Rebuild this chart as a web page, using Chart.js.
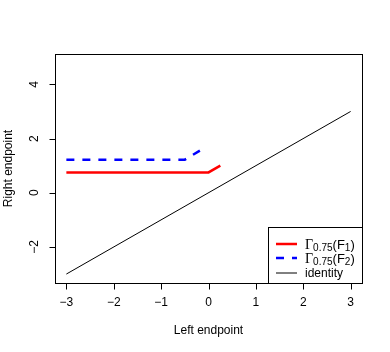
<!DOCTYPE html>
<html><head><meta charset="utf-8">
<script src="https://cdn.jsdelivr.net/npm/chart.js@4"></script>
<style>html,body{margin:0;padding:0;background:#fff}#wrap{width:390px;height:352px}</style>
</head><body><div id="wrap"><canvas id="c" width="390" height="352"></canvas></div>
<script>
const redX = [-3, 0, 0.25];
const redY = [0.75, 0.75, 1.0];
const blueX = [-3, -0.5, -0.08];
const blueY = [1.22, 1.22, 1.66];
const idX = [-3, 3];
const idY = [-3, 3];
const xTicks = [-3, -2, -1, 0, 1, 2, 3];
const yTicks = [-2, 0, 2, 4];
const xLabel = "Left endpoint";
const yLabel = "Right endpoint";
const legendItems = [
  {main: "Γ", sub: "0.75", mid: "(F", sub2: "1", end: ")", color: "#ff0000", width: 2.5, dash: []},
  {main: "Γ", sub: "0.75", mid: "(F", sub2: "2", end: ")", color: "#0000ff", width: 2.5, dash: [8, 8]},
  {text: "identity", color: "#000000", width: 1, dash: []}
];

function pts(xs, ys){ return xs.map((x,i)=>({x:x, y:ys[i]})); }

const axesPlugin = {
  id: 'rAxes',
  afterDraw(chart){
    const ctx = chart.ctx, a = chart.chartArea;
    const xs = chart.scales.x, ys = chart.scales.y;
    ctx.save();
    ctx.strokeStyle = '#000'; ctx.lineWidth = 1; ctx.setLineDash([]);
    ctx.strokeRect(a.left+0.5, a.top+0.5, a.right-a.left, a.bottom-a.top);
    ctx.fillStyle = '#000';
    ctx.font = '12px "Liberation Sans", Arial, sans-serif';
    // x axis
    const x0 = xs.getPixelForValue(xTicks[0]), x1 = xs.getPixelForValue(xTicks[xTicks.length-1]);
    const yb = a.bottom + 0.5;
    ctx.beginPath(); ctx.moveTo(x0, yb); ctx.lineTo(x1, yb);
    xTicks.forEach(t=>{ const p = Math.round(xs.getPixelForValue(t))+0.5; ctx.moveTo(p, yb); ctx.lineTo(p, yb+6); });
    ctx.stroke();
    ctx.textAlign = 'center'; ctx.textBaseline = 'middle';
    xTicks.forEach(t=>{ ctx.fillText(String(t).replace('-', '\u2212'), xs.getPixelForValue(t), a.bottom + 20); });
    ctx.fillText(xLabel, (a.left+a.right)/2, a.bottom + 48);
    // y axis
    const xl = a.left + 0.5;
    ctx.beginPath();
    ctx.moveTo(xl, ys.getPixelForValue(yTicks[0])); ctx.lineTo(xl, ys.getPixelForValue(yTicks[yTicks.length-1]));
    yTicks.forEach(t=>{ const p = Math.round(ys.getPixelForValue(t))+0.5; ctx.moveTo(xl, p); ctx.lineTo(xl-6, p); });
    ctx.stroke();
    yTicks.forEach(t=>{
      ctx.save(); ctx.translate(a.left - 20, ys.getPixelForValue(t)); ctx.rotate(-Math.PI/2);
      ctx.fillText(String(t).replace('-', '\u2212'), 0, 0); ctx.restore();
    });
    ctx.save(); ctx.translate(9, (a.top+a.bottom)/2); ctx.rotate(-Math.PI/2);
    ctx.fillText(yLabel, 0, 0); ctx.restore();
    // legend
    const lw = 94, lh = 56;
    const lx = a.right - lw, ly = a.bottom - lh;
    ctx.fillStyle = '#fff'; ctx.fillRect(lx, ly, lw, lh);
    ctx.strokeStyle = '#000'; ctx.lineWidth = 1;
    ctx.strokeRect(Math.round(lx)+0.5, Math.round(ly)+0.5, lw, lh);
    const rows = [ly+17, ly+31, ly+46];
    legendItems.forEach((it, i)=>{
      const y = rows[i];
      ctx.strokeStyle = it.color; ctx.lineWidth = it.width; ctx.setLineDash(it.dash);
      ctx.beginPath(); ctx.moveTo(lx+8, y); ctx.lineTo(lx+29, y); ctx.stroke();
      ctx.setLineDash([]);
      ctx.fillStyle = '#000'; ctx.textAlign = 'left'; ctx.textBaseline = 'alphabetic';
      let tx = lx + 37; const by = y + 5;
      if (it.text) {
        ctx.font = '12px "Liberation Sans", Arial, sans-serif';
        ctx.fillText(it.text, tx, by - 1);
      } else {
        ctx.font = '14px "Liberation Serif", serif';
        ctx.fillText(it.main, tx, by); tx += ctx.measureText(it.main).width;
        ctx.font = '10px "Liberation Sans", Arial, sans-serif';
        ctx.fillText(it.sub, tx, by + 2); tx += ctx.measureText(it.sub).width;
        ctx.font = '13px "Liberation Sans", Arial, sans-serif';
        ctx.fillText(it.mid, tx, by); tx += ctx.measureText(it.mid).width;
        ctx.font = '10px "Liberation Sans", Arial, sans-serif';
        ctx.fillText(it.sub2, tx, by + 2); tx += ctx.measureText(it.sub2).width;
        ctx.font = '13px "Liberation Sans", Arial, sans-serif';
        ctx.fillText(it.end, tx, by);
      }
    });
    ctx.restore();
  }
};

new Chart(document.getElementById('c'), {
  type: 'scatter',
  data: {
    datasets: [
      {data: pts(idX, idY), showLine: true, borderColor: '#000', borderWidth: 1, pointRadius: 0, fill: false},
      {data: pts(redX, redY), showLine: true, borderColor: '#ff0000', borderWidth: 2.5, pointRadius: 0, fill: false},
      {data: pts(blueX, blueY), showLine: true, borderColor: '#0000ff', borderWidth: 2.5, borderDash: [8, 8], pointRadius: 0, fill: false}
    ]
  },
  options: {
    responsive: false, animation: false,
    layout: {padding: {left: 55, right: 28, top: 54, bottom: 69}},
    plugins: {legend: {display: false}, tooltip: {enabled: false}},
    scales: {
      x: {type: 'linear', min: -3.24, max: 3.24, display: false},
      y: {type: 'linear', min: -3.33, max: 5.12, display: false}
    }
  },
  plugins: [axesPlugin]
});
</script></body></html>
